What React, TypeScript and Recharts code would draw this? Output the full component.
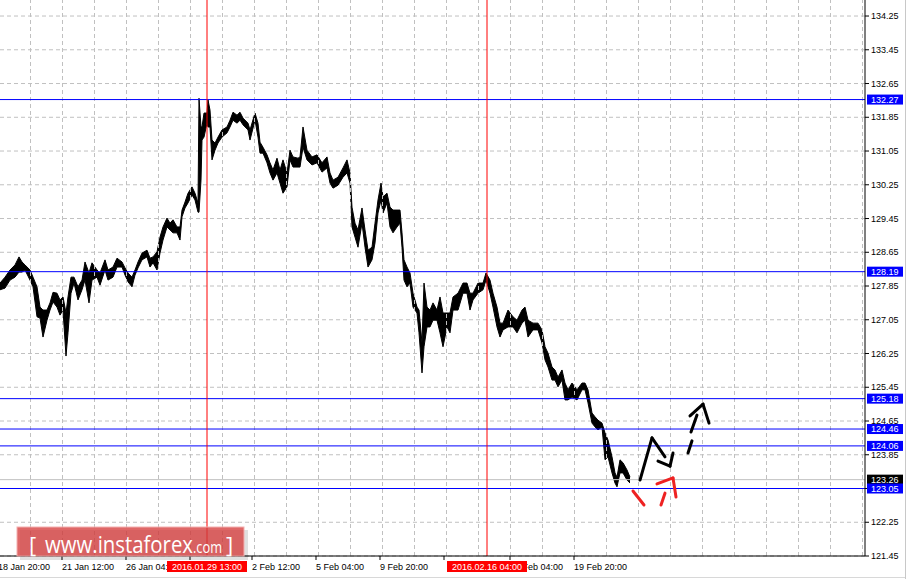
import React from 'react';
import { ComposedChart, Area, XAxis, YAxis, CartesianGrid, ReferenceLine } from 'recharts';

// hour index of each sampled bar (1 px = 1 H1 bar on the original chart)
const hours = [
  0, 5, 10, 15, 19, 22, 25, 30, 33, 37, 40, 43, 47, 50, 53, 57, 60, 63, 66, 68,
  71, 74, 78, 82, 85, 89, 92, 97, 100, 105, 108, 113, 117, 122, 125, 128, 132, 135, 138, 142,
  147, 150, 153, 157, 160, 163, 167, 170, 173, 177, 180, 182, 185, 188, 192, 195, 198, 199, 201, 202,
  204, 207, 208, 210, 212, 215, 218, 222, 227, 230, 233, 237, 240, 243, 248, 250, 255, 258, 260, 263,
  267, 270, 273, 277, 280, 283, 287, 290, 293, 298, 300, 303, 307, 312, 317, 322, 327, 330, 333, 338,
  343, 347, 350, 352, 355, 358, 362, 365, 368, 372, 375, 378, 381, 383, 387, 390, 393, 397, 400, 402,
  404, 407, 410, 413, 417, 419, 422, 424, 427, 430, 433, 437, 440, 443, 447, 450, 453, 458, 463, 467,
  470, 473, 478, 483, 486, 490, 493, 497, 500, 503, 508, 513, 517, 522, 525, 528, 533, 538, 542, 545,
  548, 552, 555, 558, 562, 565, 568, 572, 577, 582, 585, 588, 592, 595, 598, 602, 605, 608, 612, 615,
  617, 620, 623, 627, 630,
];

const highs = [
  127.92, 128.06, 128.23, 128.35, 128.54, 128.42, 128.35, 128.23, 128.06, 127.83, 127.35, 127.28, 127.28, 127.45, 127.70, 127.68, 127.52, 127.59, 127.21, 127.59,
  128.06, 128.06, 127.83, 127.99, 128.42, 128.16, 128.40, 128.23, 128.16, 128.47, 128.23, 128.30, 128.51, 128.42, 128.28, 128.16, 128.06, 128.23, 128.42, 128.63,
  128.70, 128.51, 128.54, 128.66, 129.01, 129.25, 129.46, 129.34, 129.42, 129.25, 129.25, 129.65, 129.84, 130.05, 130.20, 130.05, 129.82, 132.30, 131.62, 131.62,
  131.95, 131.95, 132.26, 132.02, 131.31, 131.24, 131.38, 131.55, 131.62, 131.78, 131.97, 131.90, 131.97, 131.83, 131.71, 131.55, 131.95, 131.71, 131.26, 131.14,
  130.96, 130.77, 130.60, 130.88, 130.60, 130.84, 130.53, 131.07, 130.91, 130.88, 130.91, 131.62, 131.07, 130.91, 130.96, 130.77, 130.91, 130.53, 130.36, 130.43,
  130.65, 130.84, 130.53, 129.72, 129.34, 129.18, 129.70, 129.18, 128.70, 128.77, 129.34, 129.89, 130.29, 129.96, 130.05, 129.72, 129.65, 129.65, 129.65, 129.11,
  128.47, 128.30, 128.16, 127.68, 127.35, 127.28, 126.50, 127.92, 127.35, 127.28, 127.45, 127.28, 127.59, 127.21, 127.21, 127.21, 127.59, 127.68, 127.92, 127.92,
  127.68, 127.68, 127.92, 127.92, 128.16, 127.99, 127.68, 127.35, 126.97, 126.97, 127.28, 127.12, 127.04, 127.28, 127.35, 127.04, 126.97, 126.97, 126.81, 126.41,
  126.26, 125.93, 125.86, 125.69, 125.86, 125.55, 125.39, 125.55, 125.39, 125.55, 125.55, 125.39, 124.84, 124.75, 124.67, 124.60, 124.37, 124.20, 123.80, 123.42,
  123.32, 123.73, 123.66, 123.49, 123.32,
];

const lows = [
  127.76, 127.80, 127.99, 128.06, 128.18, 128.18, 128.23, 127.99, 127.83, 127.12, 127.09, 126.64, 127.04, 127.28, 127.47, 127.35, 127.16, 127.28, 126.19, 126.74,
  127.68, 127.92, 127.52, 127.76, 127.99, 127.45, 127.99, 128.06, 127.87, 128.23, 127.99, 128.06, 128.30, 128.30, 128.11, 127.95, 127.83, 128.11, 128.28, 128.47,
  128.54, 128.30, 128.40, 128.23, 128.63, 128.94, 129.25, 129.18, 129.11, 129.11, 128.94, 129.49, 129.70, 129.82, 130.01, 129.89, 129.60, 129.60, 130.36, 131.31,
  131.38, 131.71, 131.62, 131.62, 130.84, 131.07, 131.24, 131.38, 131.48, 131.62, 131.78, 131.71, 131.78, 131.67, 131.55, 131.31, 131.78, 131.38, 131.00, 131.00,
  130.77, 130.53, 130.36, 130.53, 130.29, 130.05, 130.20, 130.84, 130.67, 130.67, 130.67, 131.14, 130.84, 130.72, 130.77, 130.55, 130.65, 130.29, 130.17, 130.24,
  130.43, 130.53, 130.29, 129.25, 129.01, 128.77, 129.34, 128.77, 128.30, 128.47, 128.87, 129.58, 129.89, 129.58, 129.82, 129.25, 129.11, 129.25, 129.34, 128.77,
  127.99, 127.83, 127.92, 127.35, 127.21, 126.74, 125.79, 126.41, 126.88, 126.88, 127.04, 127.04, 126.74, 126.41, 126.88, 126.74, 127.28, 127.28, 127.68, 127.68,
  127.28, 127.52, 127.68, 127.76, 127.99, 127.68, 127.35, 126.88, 126.64, 126.81, 126.88, 126.88, 126.74, 126.97, 127.04, 126.64, 126.81, 126.81, 126.50, 126.10,
  125.93, 125.62, 125.62, 125.46, 125.62, 125.15, 125.15, 125.22, 125.15, 125.39, 125.39, 125.08, 124.60, 124.51, 124.44, 124.51, 123.73, 123.80, 123.42, 123.18,
  123.09, 123.42, 123.42, 123.25, 123.18,
];

const priceTicks = [121.45, 122.25, 123.05, 123.85, 124.65, 125.45, 126.25, 127.05, 127.85, 128.65, 129.45, 130.25, 131.05, 131.85, 132.65, 133.45, 134.25];

// the labels at 190 and 444 sit fully under the red time boxes, so only their tick marks show
const timeTicks = [-2, 62, 126, 190, 252, 316, 380, 444, 510, 574];
const timeLabels = ['18 Jan 20:00', '21 Jan 12:00', '26 Jan 04:00', '', '2 Feb 12:00', '5 Feb 04:00', '9 Feb 20:00', '', '17 Feb 04:00', '19 Feb 20:00'];

const levelLines = [132.27, 128.19, 125.18, 124.46, 124.06, 123.05];
const bidLine = 123.26;

const markerHours = [207, 487];
const markerLabels = ['2016.01.29 13:00', '2016.02.16 04:00'];

// hand-drawn forecast strokes: [hour, price] pairs
const blackStrokes = [
  [[640, 123.25], [652, 124.25]],
  [[652, 124.25], [665, 123.8]],
  [[658, 123.7], [670, 123.58]],
  [[670, 123.58], [673, 123.89]],
  [[688, 123.89], [692, 124.18]],
  [[691, 124.39], [697, 124.79]],
  [[690, 124.77], [703, 125.05]],
  [[703, 125.05], [709, 124.6]],
];
const redStrokes = [
  [[633, 122.99], [644, 122.66]],
  [[661, 122.66], [665, 122.94]],
  [[657, 123.16], [673, 123.3]],
  [[673, 123.3], [676, 122.85]],
];

const data = hours.map((t, i) => ({ t, range: [lows[i], highs[i]] }));

const FONT = '"Liberation Sans", Arial, sans-serif';
const gridX = Array.from({ length: 27 }, (_, k) => 30.5 + 32 * k);

// axis ticks: plain scale labels first, then the boxed line labels so they sit on top
const yTicks = [...priceTicks, bidLine, ...levelLines];
const xTicks = [...timeTicks, ...markerHours];

const PriceTick = (props: any) => {
  const { x, y, payload, index } = props;
  const v = payload.value;
  if (index < priceTicks.length) {
    return (
      <g>
        <line x1={x - 6} x2={x - 2} y1={y} y2={y} stroke="#000" />
        <text x={x} y={y + 3} fontSize={9} fontFamily={FONT} fill="#000">
          {v.toFixed(2)}
        </text>
      </g>
    );
  }
  const bg = v === bidLine ? '#000' : '#0000ff';
  return (
    <g>
      <rect x={x - 4} y={y - 5} width={36} height={10} fill={bg} />
      <text x={x} y={y + 3} fontSize={9} fontFamily={FONT} fill="#fff">
        {v.toFixed(2)}
      </text>
    </g>
  );
};

const TimeTick = (props: any) => {
  const { x, y, index } = props;
  if (index < timeTicks.length) {
    return (
      <g>
        <line x1={x} x2={x} y1={y - 6} y2={y - 2} stroke="#000" />
        {timeLabels[index] && (
          <text x={x} y={y + 8} fontSize={9} fontFamily={FONT} fill="#000">
            {timeLabels[index]}
          </text>
        )}
      </g>
    );
  }
  const label = markerLabels[index - timeTicks.length];
  return (
    <g>
      <rect x={x - 40} y={y - 1} width={80} height={11} fill="#ff0000" />
      <text x={x} y={y + 8} fontSize={9} fontFamily={FONT} fill="#fff" textAnchor="middle">
        {label}
      </text>
    </g>
  );
};

const Watermark = () => (
  <svg width={911} height={579} style={{ position: 'absolute', left: 0, top: 0, pointerEvents: 'none' }}>
    <rect x={20} y={530} width={228} height={30} fill="#000" opacity={0.12} />
    <rect x={17} y={527} width={227} height={29} fill="rgb(214,62,62)" fillOpacity={0.78} stroke="#f4b0b0" strokeWidth={1} />
    <text x={29} y={553} fontSize={22} fontFamily='"Open Sans", sans-serif' fill="#fff">[</text>
    <text x={45} y={553} fontSize={24} fontFamily='"Open Sans", sans-serif' fill="#fff" textLength={148} lengthAdjust="spacingAndGlyphs">
      www.instaforex
    </text>
    <text x={193} y={553} fontSize={17} fontFamily='"Open Sans", sans-serif' fill="#fff" textLength={29} lengthAdjust="spacingAndGlyphs">
      .com
    </text>
    <text x={226} y={553} fontSize={22} fontFamily='"Open Sans", sans-serif' fill="#fff">]</text>
  </svg>
);

export default function App() {
  return (
    <div style={{ position: 'fixed', left: 0, top: 0, width: 911, height: 579, background: '#fff', overflow: 'hidden' }}>
      <ComposedChart width={911} height={579} data={data} margin={{ top: 0, right: 0, bottom: 0, left: 0 }}>
        <CartesianGrid vertical={false} stroke="#c0c0c0" strokeDasharray="4 3" horizontalValues={priceTicks} />
        {gridX.map((gx) => (
          <ReferenceLine key={'g' + gx} x={gx} stroke="#c0c0c0" strokeDasharray="4 3" />
        ))}
        <XAxis
          dataKey="t"
          type="number"
          domain={[0, 865]}
          ticks={xTicks}
          interval={0}
          allowDataOverflow
          height={23}
          tickSize={4}
          tickMargin={2}
          axisLine={{ stroke: '#000' }}
          tickLine={false}
          tick={<TimeTick />}
        />
        <YAxis
          orientation="right"
          type="number"
          domain={[121.45, 134.63]}
          ticks={yTicks}
          interval={0}
          allowDataOverflow
          width={46}
          tickSize={4}
          tickMargin={2}
          axisLine={{ stroke: '#000' }}
          tickLine={false}
          tick={<PriceTick />}
        />
        <ReferenceLine y={bidLine} stroke="#c0c0c0" />
        {levelLines.map((v) => (
          <ReferenceLine key={'l' + v} y={v} stroke="#0000ff" />
        ))}
        {markerHours.map((h) => (
          <ReferenceLine key={'m' + h} x={h} stroke="#ff0000" />
        ))}
        <Area
          type="linear"
          dataKey="range"
          stroke="#000"
          strokeWidth={1}
          fill="#000"
          fillOpacity={1}
          dot={false}
          activeDot={false}
          isAnimationActive={false}
        />
        {blackStrokes.map((s, i) => (
          <ReferenceLine
            key={'b' + i}
            segment={[{ x: s[0][0], y: s[0][1] }, { x: s[1][0], y: s[1][1] }]}
            stroke="#000"
            strokeWidth={3}
            strokeLinecap="round"
            ifOverflow="visible"
          />
        ))}
        {redStrokes.map((s, i) => (
          <ReferenceLine
            key={'r' + i}
            segment={[{ x: s[0][0], y: s[0][1] }, { x: s[1][0], y: s[1][1] }]}
            stroke="#ee2222"
            strokeWidth={3}
            strokeLinecap="round"
            ifOverflow="visible"
          />
        ))}
      </ComposedChart>
      <div style={{ position: 'absolute', left: 905, top: 0, width: 1, height: 579, background: '#c8c8c8' }} />
      <div style={{ position: 'absolute', left: 0, top: 577, width: 905, height: 1, background: '#d8d8d8' }} />
      <Watermark />
    </div>
  );
}
